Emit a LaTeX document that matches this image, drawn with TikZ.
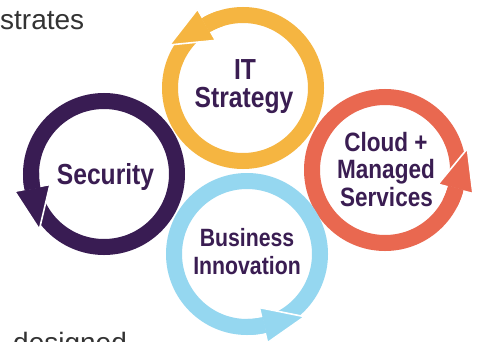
\documentclass[tikz,border=0pt]{standalone}
\usepackage{fontspec}
\setmainfont{Liberation Sans}
\newfontfamily\labelfont[FakeStretch=0.85]{Liberation Sans}
\usetikzlibrary{calc}
\definecolor{itc}{HTML}{F5B541}
\definecolor{clc}{HTML}{E96850}
\definecolor{buc}{HTML}{95D7F0}
\definecolor{sec}{HTML}{391C53}
\definecolor{txt}{HTML}{3A1D52}
\definecolor{bodyc}{HTML}{333333}
% #1 centre, #2 base angle of the head, #3 colour
\newcommand\cyclering[3]{%
  \draw[ringline,#3] (#1) circle[radius=73pt];
  \fill[#3, draw=white, line width=1.6pt, line join=miter]
     ($(#1)+(#2:55pt)$) -- ($(#1)+(#2:74pt)+(#2+90:42pt)$) -- ($(#1)+(#2:91pt)$) -- cycle;
  \draw[ringline,#3] ($(#1)+(#2-12:73pt)$) arc[start angle=#2-12, end angle=#2+1, radius=73pt];
}
\begin{document}
\begin{tikzpicture}[x=1pt,y=1pt,
  ringline/.style={line width=16pt},
  lblA/.style={font=\labelfont\bfseries\fontsize{29}{28}\selectfont, text=txt, inner sep=0pt, anchor=base},
  lblB/.style={font=\labelfont\bfseries\fontsize{26.5}{28}\selectfont, text=txt, inner sep=0pt, anchor=base},
  lblC/.style={font=\labelfont\bfseries\fontsize{25}{28}\selectfont, text=txt, inner sep=0pt, anchor=base},
  bodytext/.style={font=\fontsize{28}{30}\selectfont, text=bodyc, inner sep=0pt, anchor=base west}]
\useasboundingbox (0,0) rectangle (481,341);
\clip (0,0) rectangle (481,341);
\fill[white] (0,0) rectangle (481,341);

\coordinate (it) at (243,253);
\coordinate (sc) at (104,167);
\coordinate (cl) at (385,171);
\coordinate (bu) at (247,87);

\cyclering{it}{120}{itc}
\cyclering{sc}{191}{sec}
\cyclering{cl}{-15}{clc}
\cyclering{bu}{-77}{buc}

\node[lblA] (it1) at (245,262) {IT};
\node[lblA] (it2) at (244,234) {Strategy};
\node[lblA] (sc1) at (105.5,157) {Security};
\node[lblB] (cl1) at (386,190) {Cloud +};
\node[lblB] (cl2) at (386,163) {Managed};
\node[lblB] (cl3) at (386.5,135) {Services};
\node[lblC] (bu1) at (247,95) {Business};
\node[lblC] (bu2) at (247,67) {Innovation};

\node[bodytext] (t1) at (0,312) {strates};
\node[bodytext] (t2) at (13,-11.4) {designed};
\end{tikzpicture}
\end{document}
